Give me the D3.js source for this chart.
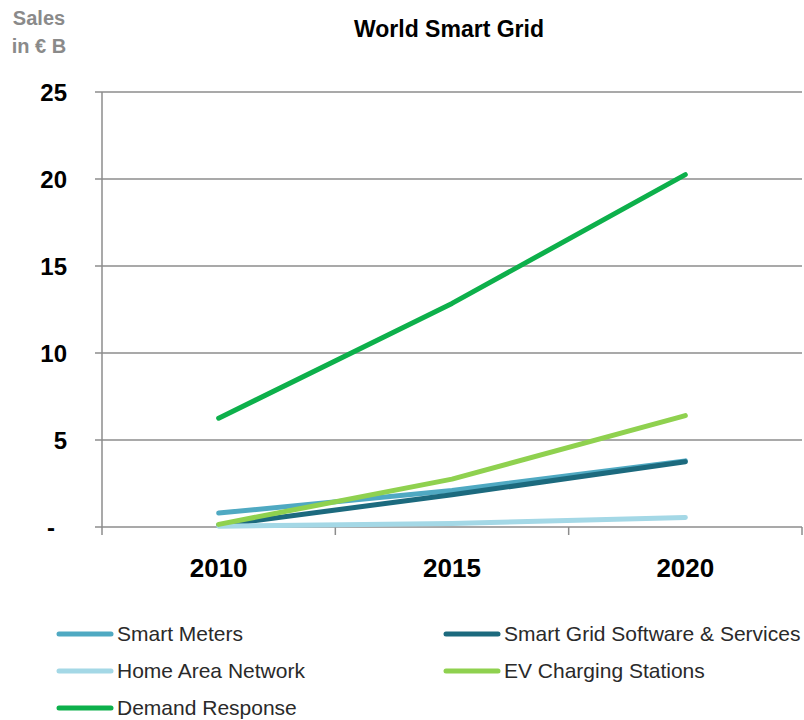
<!DOCTYPE html>
<html>
<head>
<meta charset="utf-8">
<script src="https://cdn.jsdelivr.net/npm/d3@7"></script>
<style>
body{margin:0;background:#fff;}
svg{font-family:"Liberation Sans",Arial,sans-serif;}
</style>
</head>
<body>
<svg width="804" height="720"></svg>
<script>
// data
var years = ["2010", "2015", "2020"];
var seriesNames = ["Smart Meters", "Smart Grid Software & Services", "Home Area Network", "EV Charging Stations", "Demand Response"];
var smartMeters = [0.8, 2.1, 3.8];
var gridSoftware = [0.1, 1.85, 3.75];
var homeArea = [0.05, 0.2, 0.55];
var evCharging = [0.15, 2.75, 6.4];
var demandResp = [6.25, 12.85, 20.25];
var seriesColors = ["#4fa9c2", "#1c6a7e", "#a4d8e6", "#8fd14f", "#0db04b"];
var yTicks = [0, 5, 10, 15, 20, 25];
var yTickLabels = ["-", "5", "10", "15", "20", "25"];

var allValues = [smartMeters, gridSoftware, homeArea, evCharging, demandResp];

var svg = d3.select("svg");
var plotLeft = 102, plotRight = 802, plotTop = 92, plotBottom = 527;

var x = d3.scaleBand().domain(years).range([plotLeft, plotRight]);
var y = d3.scaleLinear().domain([0, 25]).range([plotBottom, plotTop]);

// gridlines
svg.selectAll(".grid").data(yTicks).enter().append("line")
    .attr("x1", plotLeft - 7).attr("x2", plotRight)
    .attr("y1", function(d){ return y(d); })
    .attr("y2", function(d){ return y(d); })
    .attr("stroke", "#8c8c8c").attr("stroke-width", 1.5);

// y axis line
svg.append("line")
    .attr("x1", plotLeft).attr("x2", plotLeft)
    .attr("y1", plotTop).attr("y2", plotBottom + 8)
    .attr("stroke", "#8c8c8c").attr("stroke-width", 1.5);

// category ticks
var bounds = years.map(function(d){ return x(d); }).concat([plotRight]);
svg.selectAll(".xt").data(bounds.slice(1)).enter().append("line")
    .attr("x1", function(d){ return d; }).attr("x2", function(d){ return d; })
    .attr("y1", plotBottom).attr("y2", plotBottom + 8)
    .attr("stroke", "#8c8c8c").attr("stroke-width", 1.5);

// y labels
svg.selectAll(".yl").data(yTicks).enter().append("text")
    .attr("x", function(d){ return d == 0 ? 55 : 67; })
    .attr("y", function(d){ return y(d) + 9; })
    .attr("text-anchor", "end")
    .attr("font-size", 24).attr("font-weight", "bold")
    .attr("fill", "#000")
    .text(function(d, i){ return yTickLabels[i]; });

// x labels
svg.selectAll(".xl").data(years).enter().append("text")
    .attr("x", function(d){ return x(d) + x.bandwidth()/2; })
    .attr("y", 577)
    .attr("text-anchor", "middle")
    .attr("font-size", 26).attr("font-weight", "bold")
    .attr("fill", "#000")
    .text(function(d){ return d; });

// lines
var line = d3.line()
    .x(function(d, i){ return x(years[i]) + x.bandwidth()/2; })
    .y(function(d){ return y(d); });

allValues.forEach(function(vals, k){
    svg.append("path")
        .attr("d", line(vals))
        .attr("fill", "none")
        .attr("stroke", seriesColors[k])
        .attr("stroke-width", 5)
        .attr("stroke-linecap", "round")
        .attr("stroke-linejoin", "round");
});

// title
svg.append("text")
    .attr("x", 449).attr("y", 37)
    .attr("text-anchor", "middle")
    .attr("font-size", 23).attr("font-weight", "bold")
    .text("World Smart Grid");

// y unit
svg.append("text").attr("x", 39).attr("y", 25)
    .attr("text-anchor", "middle").attr("font-size", 20).attr("font-weight", "bold")
    .attr("fill", "#8a8a8a").text("Sales");
svg.append("text").attr("x", 39).attr("y", 53)
    .attr("text-anchor", "middle").attr("font-size", 20).attr("font-weight", "bold")
    .attr("fill", "#8a8a8a").text("in € B");

// legend
var legPos = [[57, 634], [444, 634], [57, 671], [444, 671], [57, 708]];
seriesNames.forEach(function(name, k){
    var p = legPos[k];
    svg.append("line")
        .attr("x1", p[0] + 2).attr("x2", p[0] + 54)
        .attr("y1", p[1]).attr("y2", p[1])
        .attr("stroke", seriesColors[k]).attr("stroke-width", 5)
        .attr("stroke-linecap", "round");
    svg.append("text")
        .attr("x", p[0] + 60).attr("y", p[1] + 7)
        .attr("font-size", 21).attr("fill", "#2a2a2a")
        .text(name);
});
</script>
</body>
</html>
